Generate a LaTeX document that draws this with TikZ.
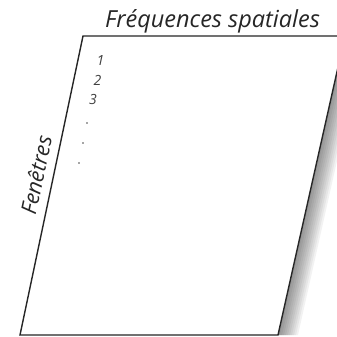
\documentclass[tikz,border=0pt]{standalone}
\usepackage{fontspec}
\setmainfont{Open Sans}
\begin{document}
\begin{tikzpicture}[x=1pt,y=1pt,
  lbl/.style={font=\itshape\fontsize{23.5}{28}\selectfont, text=black!85, inner sep=0pt},
  sidelbl/.style={font=\itshape\fontsize{21.5}{26}\selectfont, text=black!85, inner sep=0pt},
  idx/.style={font=\itshape\fontsize{14}{16}\selectfont, text=black!75, inner sep=0pt},
  dotmark/.style={circle, fill=black!70, inner sep=0pt, minimum size=1.6pt}]
\useasboundingbox (0,0) rectangle (337,-337);
\coordinate (A) at (83,-36);
\coordinate (B) at (345,-36);
\coordinate (C) at (278,-335);
\coordinate (D) at (20,-335);
% shadow
\begin{scope}
\clip (0,0) rectangle (337,-337);
\foreach \k in {1,...,10}{
  \fill[black, opacity=0.05] (B) -- ([xshift=\k*2pt]B) -- ([xshift=\k*2pt]C) -- (C) -- cycle;
}
\end{scope}
\fill[white] (A) -- (B) -- (C) -- (D) -- cycle;
\draw[line width=1.4pt, black!85, line join=miter] (A) -- (B) -- (C) -- (D) -- cycle;
\node[lbl, anchor=base] (freq) at (212.5,-27.7) {Fréquences spatiales};
\node[sidelbl, rotate=78] (fen) at (36,-175) {Fenêtres};
\node[idx] (n1) at (100.5,-61) {1};
\node[idx] (n2) at (97.5,-80.5) {2};
\node[idx] (n3) at (93,-99.5) {3};
\node[dotmark] (d1) at (87,-123) {};
\node[dotmark] (d2) at (83,-143) {};
\node[dotmark] (d3) at (79,-163) {};
\end{tikzpicture}
\end{document}
